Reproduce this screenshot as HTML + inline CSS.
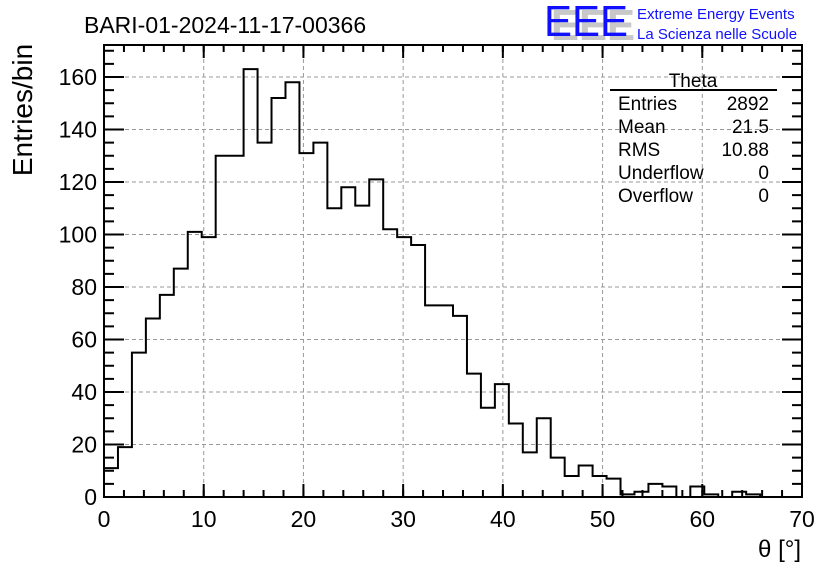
<!DOCTYPE html>
<html><head><meta charset="utf-8"><style>
body{margin:0;background:#fff;}
svg{display:block;font-family:"Liberation Sans",sans-serif;}
</style></head><body>
<svg id="c" width="836" height="572">
<text x="84" y="33" font-size="23">BARI-01-2024-11-17-00366</text>
<g>
<text x="551" y="40" font-size="44" fill="#c8c8c8" textLength="84" lengthAdjust="spacingAndGlyphs" font-weight="bold">EEE</text>
<text x="544" y="36" font-size="44" fill="#1010ff" textLength="84" lengthAdjust="spacingAndGlyphs">EEE</text>
<text x="637" y="19" font-size="15" fill="#1010ff">Extreme Energy Events</text>
<text x="637" y="39" font-size="15" fill="#1010ff">La Scienza nelle Scuole</text>
</g>
<g id="grid"></g>
<g id="axes"></g>
<path id="hist" fill="none" stroke="#000" stroke-width="2"/>
<rect x="104" y="45" width="698" height="452" fill="none" stroke="#000" stroke-width="2"/>
<g font-size="19">
<text x="693" y="87" text-anchor="middle">Theta</text>
<line x1="610" y1="90" x2="777" y2="90" stroke="#000" stroke-width="2"/>
<text x="618" y="110">Entries</text><text x="769" y="110" text-anchor="end">2892</text>
<text x="618" y="133">Mean</text><text x="769" y="133" text-anchor="end">21.5</text>
<text x="618" y="156">RMS</text><text x="769" y="156" text-anchor="end">10.88</text>
<text x="618" y="179">Underflow</text><text x="769" y="179" text-anchor="end">0</text>
<text x="618" y="202">Overflow</text><text x="769" y="202" text-anchor="end">0</text>
</g>
<text transform="translate(32,110) rotate(-90)" text-anchor="middle" font-size="28">Entries/bin</text>
<text x="801" y="557" text-anchor="end" font-size="24">θ [°]</text>
</svg>
<script>
const counts=[11,19,55,68,77,87,101,99,130,130,163,135,152,158,131,135,110,118,111,121,102,99,96,73,73,69,47,34,43,28,17,30,15,8,12,8,7,1,2,5,4,0,4,1,0,2,1,0,0,0];
const xTicks=[0,10,20,30,40,50,60,70];
const yTicks=[0,20,40,60,80,100,120,140,160];
const binWidth=1.4, xMin=0, xMax=70, yMin=0, yMax=160;
const L=104,R=802,T=45,B=497,Y160=77;
const sx=v=>L+(v-xMin)/(xMax-xMin)*(R-L);
const sy=v=>B-(v-yMin)/(yMax-yMin)*(B-Y160);
const NS="http://www.w3.org/2000/svg";
const grid=document.getElementById('grid'),axes=document.getElementById('axes');
function ln(p,x1,y1,x2,y2,st,w,dash){const l=document.createElementNS(NS,'line');l.setAttribute('x1',x1);l.setAttribute('y1',y1);l.setAttribute('x2',x2);l.setAttribute('y2',y2);l.setAttribute('stroke',st);l.setAttribute('stroke-width',w);if(dash)l.setAttribute('stroke-dasharray',dash);p.appendChild(l);return l;}
function tx(x,y,s,anchor){const t=document.createElementNS(NS,'text');t.setAttribute('x',x);t.setAttribute('y',y);t.setAttribute('font-size','23');t.setAttribute('text-anchor',anchor);t.textContent=s;axes.appendChild(t);return t;}
xTicks.forEach(v=>{const x=sx(v);
 if(v>xMin&&v<xMax){const g=ln(grid,x,T,x,B,'#999',1,'4,3');
 
 }
 ln(axes,x,B,x,B-13,'#000',2);ln(axes,x,T,x,T+13,'#000',2);
 const t=tx(x,527,String(v),'middle');
 
 });
for(let v=xMin;v<=xMax;v+=2){const x=sx(v);ln(axes,x,B,x,B-7,'#000',2);ln(axes,x,T,x,T+7,'#000',2);}
yTicks.forEach(v=>{const y=sy(v);
 if(v>yMin){const g=ln(grid,L,y,R,y,'#999',1,'4,3');
 
 }
 ln(axes,L,y,L+20,y,'#000',2);ln(axes,R,y,R-20,y,'#000',2);
 const t=tx(97,y+8,String(v),'end');
 
 });
for(let v=yMin;v<=170;v+=5){const y=sy(v);if(y<T)break;ln(axes,L,y,L+10,y,'#000',2);ln(axes,R,y,R-10,y,'#000',2);}
let d='M'+sx(0)+','+sy(0);
counts.forEach((c,i)=>{d+=' L'+sx(i*binWidth)+','+sy(c)+' L'+sx((i+1)*binWidth)+','+sy(c);});
const lastX=sx(counts.length*binWidth);
d+=' L'+lastX+','+sy(0);
document.getElementById('hist').setAttribute('d',d);
</script>
</body></html>
